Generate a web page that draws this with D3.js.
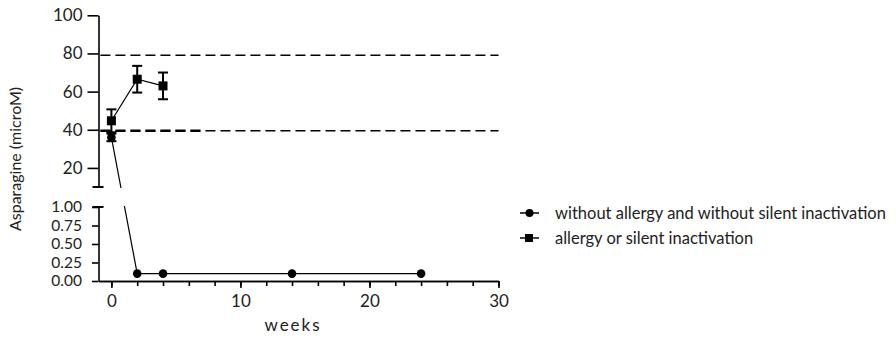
<!DOCTYPE html>
<html>
<head>
<meta charset="utf-8">
<script src="https://cdn.jsdelivr.net/npm/d3@7"></script>
<style>
  body { margin: 0; background: #fff; }
  svg { display: block; font-family: Lato, "Open Sans", sans-serif; }
</style>
</head>
<body>
<svg></svg>
<script>
const width = 896, height = 339;

// data
const weeks = [0, 2, 4, 14, 24];
const noAllergy = [36, 0.1, 0.1, 0.1, 0.1];
const noAllergyErr = [2, 0, 0, 0, 0];
const allergyWeeks = [0, 2, 4];
const allergy = [44.7, 66.5, 63];
const allergyErr = [6, 7, 7];
const refLines = [79, 39.5];
const topTicks = [20, 40, 60, 80, 100];
const bottomTicks = [0, 0.25, 0.5, 0.75, 1];
const xMajor = [0, 10, 20, 30];
const legendLabels = ["without allergy and without silent inactivation", "allergy or silent inactivation"];

const svg = d3.select("svg").attr("width", width).attr("height", height);

const x = d3.scaleLinear().domain([-1, 30]).range([98.5, 498.5]);
const yTop = d3.scaleLinear().domain([10, 100]).range([187, 15.3]);
const yBot = d3.scaleLinear().domain([0, 1]).range([281, 207]);
const y = v => v > 1 ? yTop(v) : yBot(v);

// clip regions for the broken axis
const defs = svg.append("defs");
defs.append("clipPath").attr("id", "clipTop").append("rect")
    .attr("x", 0).attr("y", 0).attr("width", width).attr("height", 188);
defs.append("clipPath").attr("id", "clipBot").append("rect")
    .attr("x", 0).attr("y", 206).attr("width", width).attr("height", height - 206);

// axes
const axisX = 98.5;
const gTop = svg.append("g").attr("transform", `translate(${axisX},0)`)
    .call(d3.axisLeft(yTop).tickValues(topTicks).tickSize(11).tickSizeOuter(0).tickPadding(5));
const gBot = svg.append("g").attr("transform", `translate(${axisX},0)`)
    .call(d3.axisLeft(yBot).tickValues(bottomTicks).tickSize(6.5).tickSizeOuter(0).tickPadding(10)
        .tickFormat(d3.format(".2f")));

const gxMinor = svg.append("g").attr("transform", "translate(0,281)")
    .call(d3.axisBottom(x).tickValues(d3.range(0, 31, 2)).tickSize(5).tickSizeOuter(0).tickFormat(""));
const gx = svg.append("g").attr("transform", "translate(0,281)")
    .call(d3.axisBottom(x).tickValues(xMajor).tickSize(7).tickSizeOuter(0).tickPadding(7));

[gTop, gBot, gxMinor, gx].forEach(g => {
  g.selectAll("path.domain").attr("stroke", "#000").attr("stroke-width", 1.6);
  g.selectAll(".tick line").attr("stroke", "#000").attr("stroke-width", 1.6);
  g.selectAll(".tick text").attr("font-size", 17).attr("fill", "#222")
      .attr("font-family", "Lato, 'Open Sans', sans-serif");
});
// the small-value segment has tightly packed labels
gBot.selectAll(".tick text").attr("font-size", 15.5);

// break caps
[yTop(10), yBot(1)].forEach(yy => {
  svg.append("line").attr("x1", axisX - 6).attr("x2", axisX + 5)
      .attr("y1", yy).attr("y2", yy).attr("stroke", "#000").attr("stroke-width", 2);
});

// reference dashed lines
refLines.forEach(v => {
  svg.append("line")
      .attr("x1", x(-0.85)).attr("x2", x(30))
      .attr("y1", yTop(v)).attr("y2", yTop(v))
      .attr("stroke", "#000").attr("stroke-width", 1.5)
      .attr("stroke-dasharray", "10,5");
});
svg.append("line")
    .attr("x1", x(-0.85)).attr("x2", x(7))
    .attr("y1", yTop(refLines[1])).attr("y2", yTop(refLines[1]))
    .attr("stroke", "#000").attr("stroke-width", 2.5)
    .attr("stroke-dasharray", "10,5");

// series lines (clipped through the axis break)
const line = d3.line().x(d => x(d[0])).y(d => y(d[1]));
const ptsA = weeks.map((w, i) => [w, noAllergy[i]]);
const ptsB = allergyWeeks.map((w, i) => [w, allergy[i]]);
["clipTop", "clipBot"].forEach(c => {
  svg.append("path").datum(ptsA).attr("d", line).attr("fill", "none")
      .attr("stroke", "#000").attr("stroke-width", 1.2).attr("clip-path", `url(#${c})`);
  svg.append("path").datum(ptsB).attr("d", line).attr("fill", "none")
      .attr("stroke", "#000").attr("stroke-width", 1.2).attr("clip-path", `url(#${c})`);
});

// error bars
function errBars(ws, vals, errs) {
  ws.forEach((w, i) => {
    if (!errs[i]) return;
    const cx = x(w), y1 = y(vals[i] + errs[i]), y2 = y(vals[i] - errs[i]);
    const g = svg.append("g").attr("stroke", "#000").attr("stroke-width", 2);
    g.append("line").attr("x1", cx).attr("x2", cx).attr("y1", y1).attr("y2", y2);
    g.append("line").attr("x1", cx - 5).attr("x2", cx + 5).attr("y1", y1).attr("y2", y1);
    g.append("line").attr("x1", cx - 5).attr("x2", cx + 5).attr("y1", y2).attr("y2", y2);
  });
}
errBars(weeks, noAllergy, noAllergyErr);
errBars(allergyWeeks, allergy, allergyErr);

// markers
svg.append("g").selectAll("circle").data(ptsA).enter().append("circle")
    .attr("cx", d => x(d[0])).attr("cy", d => y(d[1])).attr("r", 4.3).attr("fill", "#000");
svg.append("g").selectAll("rect").data(ptsB).enter().append("rect")
    .attr("x", d => x(d[0]) - 4.5).attr("y", d => y(d[1]) - 4.5)
    .attr("width", 9).attr("height", 9).attr("fill", "#000");

// axis titles
svg.append("text").attr("x", 293).attr("y", 331).attr("text-anchor", "middle")
    .attr("font-size", 17).attr("letter-spacing", 2).attr("fill", "#222").text("weeks");
svg.append("text").attr("transform", "translate(20.5,159) rotate(-90)")
    .attr("text-anchor", "middle").attr("font-size", 16).attr("fill", "#222")
    .text("Asparagine (microM)");

// legend
const legend = svg.append("g");
legendLabels.forEach((lab, i) => {
  const ly = 213 + i * 25;
  legend.append("line").attr("x1", 520).attr("x2", 539).attr("y1", ly).attr("y2", ly)
      .attr("stroke", "#000").attr("stroke-width", 1.5);
  if (i === 0) {
    legend.append("circle").attr("cx", 529.5).attr("cy", ly).attr("r", 4).attr("fill", "#000");
  } else {
    legend.append("rect").attr("x", 525).attr("y", ly - 4).attr("width", 8).attr("height", 8).attr("fill", "#000");
  }
  legend.append("text").attr("x", 555).attr("y", ly).attr("dy", "0.35em")
      .attr("font-size", 16.5).attr("fill", "#222").text(lab);
});
</script>
</body>
</html>
